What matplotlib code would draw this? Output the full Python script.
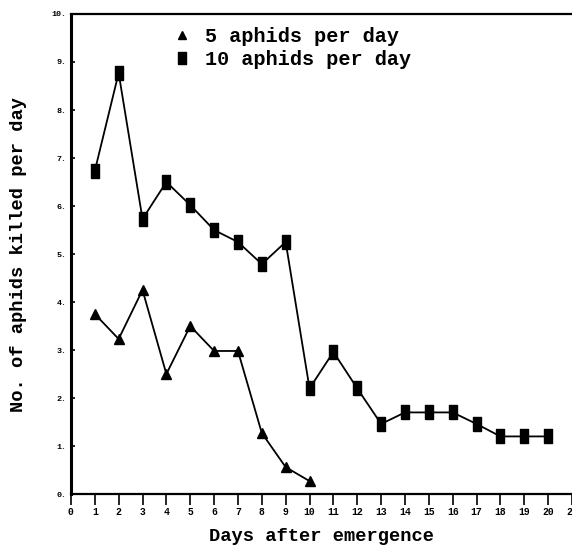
import matplotlib.pyplot as plt
from matplotlib.lines import Line2D

# Daily predation by larvae fed two prey densities
days_5 = [1, 2, 3, 4, 5, 6, 7, 8, 9, 10]
killed_5 = [3.75, 3.23, 4.25, 2.5, 3.5, 2.98, 2.98, 1.27, 0.56, 0.27]

days_10 = [1, 2, 3, 4, 5, 6, 7, 8, 9, 10, 11, 12, 13, 14, 15, 16, 17, 18, 19, 20]
killed_10 = [6.73, 8.77, 5.73, 6.5, 6.02, 5.5, 5.25, 4.79, 5.25, 2.2,
             2.96, 2.2, 1.46, 1.7, 1.7, 1.7, 1.46, 1.2, 1.2, 1.2]

x_ticks = list(range(0, 22))
y_ticks = list(range(0, 11))

plt.rcParams['font.family'] = ['Liberation Mono', 'DejaVu Sans Mono']
plt.rcParams['font.weight'] = 'bold'

fig = plt.figure(figsize=(5.72, 5.51), dpi=100)
ax = fig.add_axes([0.124, 0.1034, 0.876, 0.8712])

# tall rectangle marker for the 10-aphid series
rect = [(-0.32, -0.5), (0.32, -0.5), (0.32, 0.5), (-0.32, 0.5), (-0.32, -0.5)]

ax.plot(days_5, killed_5, color='black', lw=1.3, marker='^', ms=7)
ax.plot(days_10, killed_10, color='black', lw=1.3, marker=rect, ms=9.5)

ax.set_xlim(0, 20.37)
ax.set_ylim(0, 10)
ax.set_xticks(x_ticks)
ax.set_yticks(y_ticks)
ax.set_xticklabels([str(v) for v in x_ticks], fontsize=7, fontweight='bold')
ax.set_yticklabels([f'{v}.' for v in y_ticks], fontsize=6, fontweight='bold')
ax.tick_params(axis='x', direction='out', length=8, width=1.2, pad=1)
ax.tick_params(axis='y', direction='in', length=3, width=1.2, pad=3)

ax.spines['right'].set_visible(False)
ax.spines['left'].set_linewidth(2.2)
ax.spines['bottom'].set_linewidth(1.6)
ax.spines['top'].set_linewidth(1.6)

ax.set_xlabel('Days after emergence', fontsize=13.5, fontweight='bold', labelpad=8)
ax.set_ylabel('No. of aphids killed per day', fontsize=13.5, fontweight='bold', labelpad=18)

# legend keys show only the marker
handles = [Line2D([], [], ls='none', color='black', marker='^', ms=6),
           Line2D([], [], ls='none', color='black', marker=rect, ms=9)]
ax.legend(handles, ['5 aphids per day', '10 aphids per day'],
          loc='upper left', bbox_to_anchor=(0.17, 1.01), frameon=False,
          fontsize=14.5, handlelength=0.8, handletextpad=0.75, labelspacing=0.2,
          numpoints=1)

fig.savefig('out.png', dpi=100)
